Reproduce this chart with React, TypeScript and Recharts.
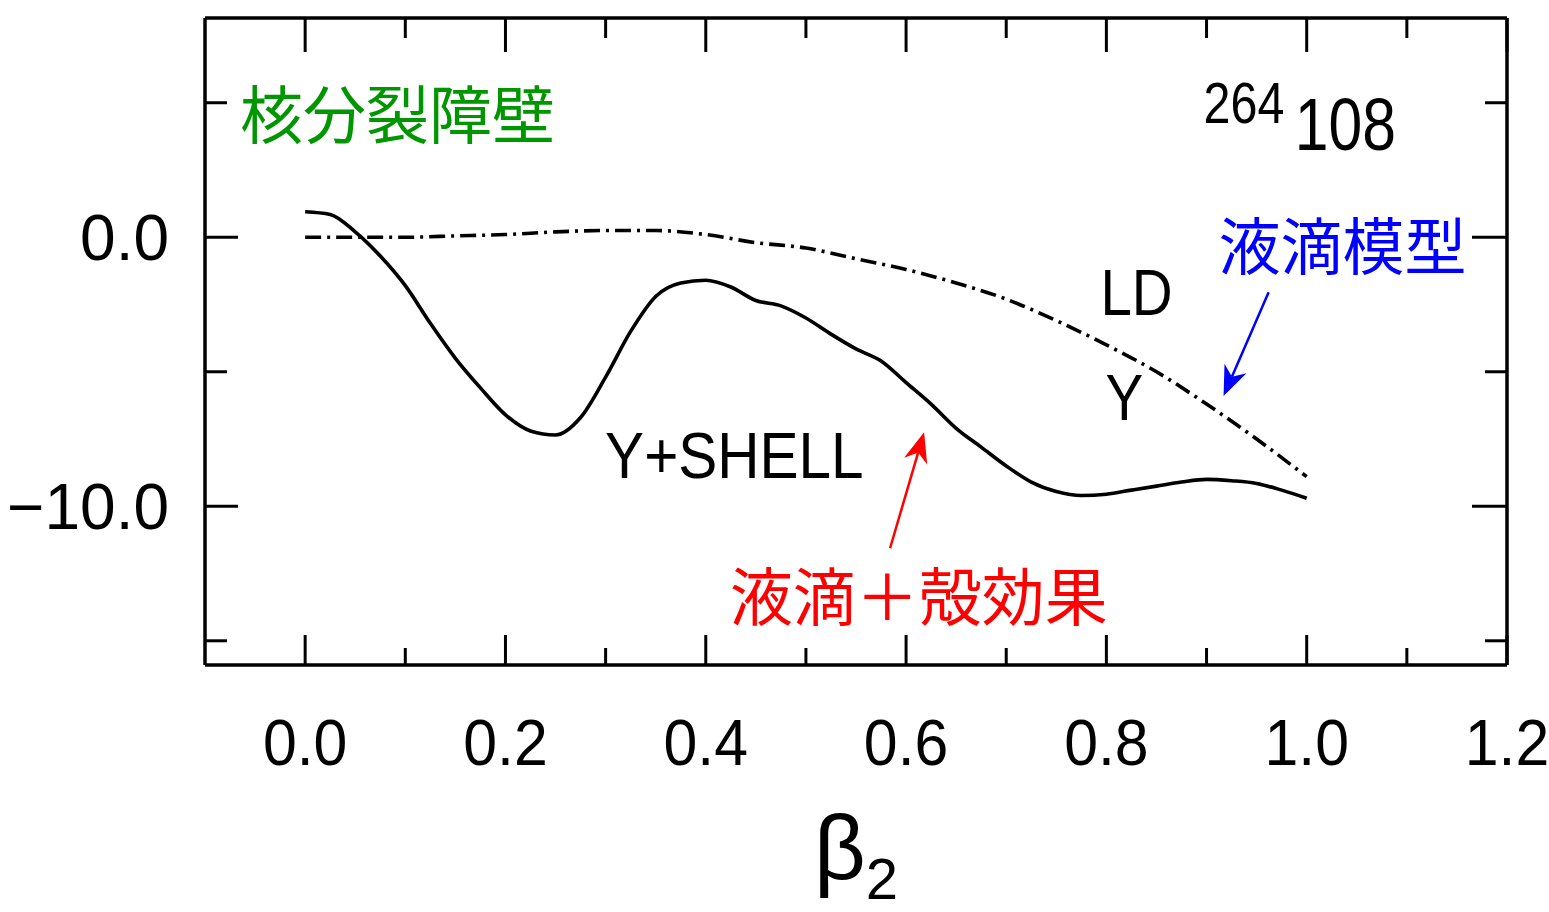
import { LineChart, Line, XAxis, YAxis, ReferenceDot, ReferenceLine } from "recharts";

// deformation beta2 and energies (MeV)
const BETA_LD = [0, 0.05, 0.1, 0.15, 0.2, 0.25, 0.3, 0.35, 0.4, 0.45, 0.5, 0.55, 0.6, 0.65, 0.7, 0.75, 0.8, 0.85, 0.9, 0.95, 1.0];
const E_LD = [0, 0, 0, 0.05, 0.1, 0.2, 0.25, 0.25, 0.1, -0.2, -0.4, -0.8, -1.2, -1.7, -2.3, -3.1, -4.0, -5.0, -6.2, -7.5, -8.9];

const BETA_SHELL = [
  0, 0.025, 0.05, 0.075, 0.1, 0.125, 0.15, 0.175, 0.2, 0.225, 0.25, 0.275, 0.3, 0.325, 0.35, 0.375, 0.4,
  0.425, 0.45, 0.475, 0.5, 0.525, 0.55, 0.575, 0.6, 0.625, 0.65, 0.675, 0.7, 0.725, 0.75, 0.775, 0.8,
  0.825, 0.85, 0.875, 0.9, 0.925, 0.95, 0.975, 1.0,
];
const E_SHELL = [
  0.95, 0.85, 0.2, -0.7, -1.8, -3.2, -4.5, -5.6, -6.6, -7.2, -7.35, -6.7, -5.2, -3.5, -2.2, -1.7, -1.6,
  -1.85, -2.35, -2.55, -3.0, -3.6, -4.15, -4.6, -5.4, -6.2, -7.1, -7.8, -8.5, -9.1, -9.45, -9.6, -9.55,
  -9.4, -9.25, -9.1, -9.0, -9.05, -9.15, -9.4, -9.7,
];

const X_TICKS = [0, 0.1, 0.2, 0.3, 0.4, 0.5, 0.6, 0.7, 0.8, 0.9, 1.0, 1.1, 1.2];
const Y_TICKS = [5, 0, -5, -10, -15];
const Y_MAJOR = [0, -10];
const Y_LABELS = ["0.0", "\u221210.0"];

const ldData = BETA_LD.map((b, i) => ({ beta: b, e: E_LD[i] }));
const shellData = BETA_SHELL.map((b, i) => ({ beta: b, e: E_SHELL[i] }));

const LATIN = '"Liberation Sans", Arial, sans-serif';
const CJK = '"Noto Sans CJK JP", "Noto Sans CJK SC", sans-serif';

const isMajorX = (v: number) => Math.round(v * 10) % 2 === 0;

function BottomTick({ x, y, payload }: any) {
  const major = isMajorX(payload.value);
  return (
    <g>
      <line x1={x} y1={y} x2={x} y2={y - (major ? 30 : 17)} stroke="#000" strokeWidth={3} />
      {major && (
        <text
          transform={`translate(${x},${y + 100}) scale(0.95,1)`}
          textAnchor="middle"
          fontSize={64}
          fontFamily={LATIN}
          fill="#000"
        >
          {payload.value.toFixed(1)}
        </text>
      )}
    </g>
  );
}

function TopTick({ x, y, payload }: any) {
  const major = isMajorX(payload.value);
  return <line x1={x} y1={y} x2={x} y2={y + (major ? 34 : 20)} stroke="#000" strokeWidth={3} />;
}

function LeftTick({ x, y, payload }: any) {
  const idx = Y_MAJOR.indexOf(payload.value);
  const major = idx >= 0;
  return (
    <g>
      <line x1={x} y1={y} x2={x + (major ? 33 : 22)} y2={y} stroke="#000" strokeWidth={3} />
      {major && (
        <text x={x - 36} y={y + 23} textAnchor="end" fontSize={64} fontFamily={LATIN} fill="#000">
          {Y_LABELS[idx]}
        </text>
      )}
    </g>
  );
}

function RightTick({ x, y, payload }: any) {
  const major = Y_MAJOR.includes(payload.value);
  return <line x1={x} y1={y} x2={x - (major ? 35 : 22)} y2={y} stroke="#000" strokeWidth={3} />;
}

function arrow(color: string) {
  return (p: any) => {
    const { x1, y1, x2, y2 } = p;
    const a = Math.atan2(y2 - y1, x2 - x1);
    const len = 30;
    const w = 12;
    const bx = x2 - len * Math.cos(a);
    const by = y2 - len * Math.sin(a);
    const nx = x2 - len * 0.7 * Math.cos(a);
    const ny = y2 - len * 0.7 * Math.sin(a);
    const px = -Math.sin(a) * w;
    const py = Math.cos(a) * w;
    return (
      <g>
        <line x1={x1} y1={y1} x2={nx} y2={ny} stroke={color} strokeWidth={2.5} />
        <polygon points={`${x2},${y2} ${bx + px},${by + py} ${nx},${ny} ${bx - px},${by - py}`} fill={color} />
      </g>
    );
  };
}

function label(text: string, opts: { size: number; family: string; color: string; sx?: number }) {
  return (p: any) => (
    <text
      transform={`translate(${p.cx},${p.cy}) scale(${opts.sx || 1},1)`}
      x={0}
      y={0}
      fontSize={opts.size}
      fontFamily={opts.family}
      fill={opts.color}
    >
      {text}
    </text>
  );
}

export default function App() {
  return (
    <div style={{ position: "absolute", left: 0, top: 0, background: "#fff" }}>
      <LineChart width={1549} height={912} margin={{ top: 8, right: 32, bottom: 217, left: 145 }}>
        <XAxis
          dataKey="beta"
          type="number"
          domain={[-0.1, 1.2]}
          allowDataOverflow
          ticks={X_TICKS}
          interval={0}
          tickSize={0}
          tickMargin={0}
          height={30}
          axisLine={{ stroke: "#000", strokeWidth: 3.5 }}
          tickLine={false}
          tick={BottomTick}
          label={{
            content: (p: any) => {
              const vb = p.viewBox;
              const cx = vb.x + vb.width / 2;
              return (
                <text x={cx - 42} y={vb.y + 214} fontFamily={LATIN} fill="#000">
                  <tspan fontSize={90}>β</tspan>
                  <tspan fontSize={58} dy={20}>2</tspan>
                </text>
              );
            },
          }}
        />
        <XAxis
          xAxisId="top"
          orientation="top"
          dataKey="beta"
          type="number"
          domain={[-0.1, 1.2]}
          allowDataOverflow
          ticks={X_TICKS}
          interval={0}
          tickSize={0}
          tickMargin={0}
          height={10}
          axisLine={{ stroke: "#000", strokeWidth: 3.5 }}
          tickLine={false}
          tick={TopTick}
        />
        <YAxis
          type="number"
          domain={[-15.9, 8.15]}
          allowDataOverflow
          ticks={Y_TICKS}
          interval={0}
          tickSize={0}
          tickMargin={0}
          width={60}
          axisLine={{ stroke: "#000", strokeWidth: 3.5 }}
          tickLine={false}
          tick={LeftTick}
        />
        <YAxis
          yAxisId="right"
          orientation="right"
          type="number"
          domain={[-15.9, 8.15]}
          allowDataOverflow
          ticks={Y_TICKS}
          interval={0}
          tickSize={0}
          tickMargin={0}
          width={10}
          axisLine={{ stroke: "#000", strokeWidth: 3.5 }}
          tickLine={false}
          tick={RightTick}
        />

        <Line
          data={ldData}
          dataKey="e"
          type="monotone"
          stroke="#000"
          strokeWidth={3.6}
          strokeDasharray="16 6 3 6"
          dot={false}
          isAnimationActive={false}
        />
        <Line
          data={shellData}
          dataKey="e"
          type="monotone"
          stroke="#000"
          strokeWidth={3.6}
          dot={false}
          isAnimationActive={false}
        />

        <ReferenceLine segment={[{ x: 0.962, y: -2.04 }, { x: 0.917, y: -5.9 }]} shape={arrow("#0000ff")} />
        <ReferenceLine segment={[{ x: 0.584, y: -11.56 }, { x: 0.618, y: -7.25 }]} shape={arrow("#ff0000")} />

        <ReferenceDot x={-0.065} y={3.7} r={0} shape={label("核分裂障壁", { size: 63, family: CJK, color: "#009600" })} />
        <ReferenceDot x={0.912} y={-1.2} r={0} shape={label("液滴模型", { size: 62, family: CJK, color: "#0000ff" })} />
        <ReferenceDot x={0.424} y={-14.22} r={0} shape={label("液滴＋殻効果", { size: 63, family: CJK, color: "#ff0000" })} />
        <ReferenceDot x={0.794} y={-2.89} r={0} shape={label("LD", { size: 65, family: LATIN, color: "#000", sx: 0.87 })} />
        <ReferenceDot x={0.799} y={-6.8} r={0} shape={label("Y", { size: 65, family: LATIN, color: "#000", sx: 0.87 })} />
        <ReferenceDot x={0.2995} y={-8.95} r={0} shape={label("Y+SHELL", { size: 65, family: LATIN, color: "#000", sx: 0.9 })} />
        <ReferenceDot x={0.897} y={4.24} r={0} shape={label("264", { size: 57, family: LATIN, color: "#000", sx: 0.85 })} />
        <ReferenceDot x={0.988} y={3.24} r={0} shape={label("108", { size: 74, family: LATIN, color: "#000", sx: 0.82 })} />
      </LineChart>
    </div>
  );
}
